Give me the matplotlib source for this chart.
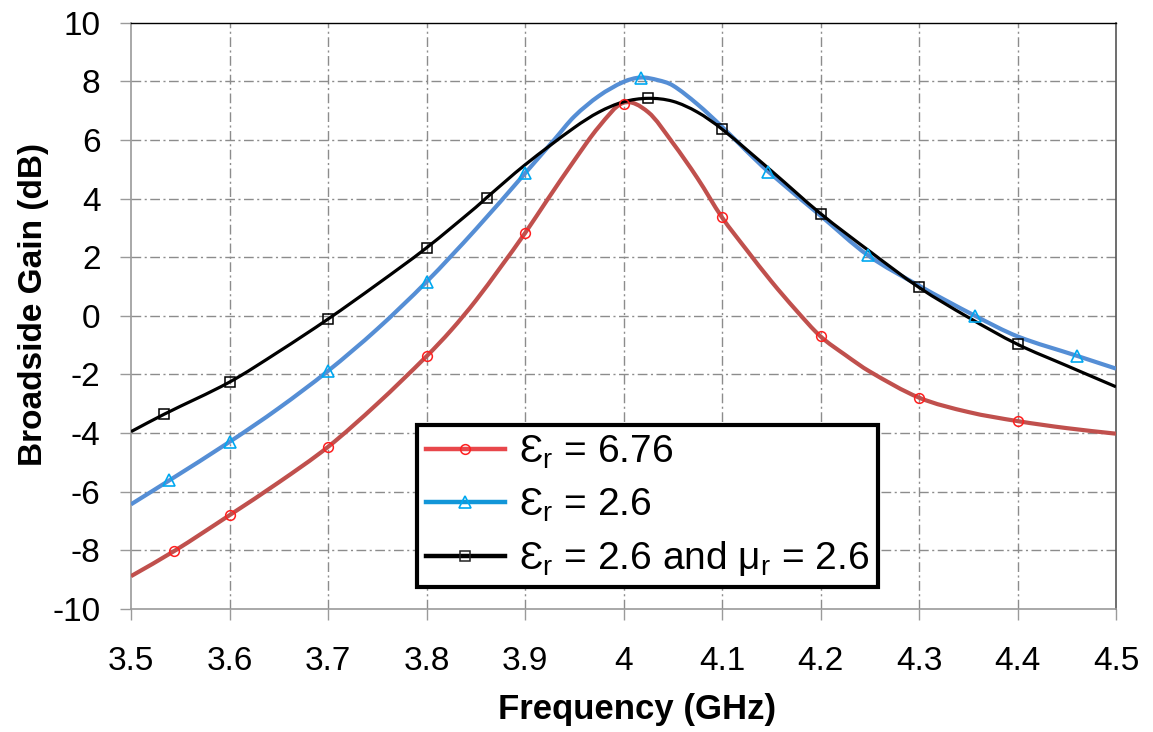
import matplotlib
matplotlib.use("Agg")
import matplotlib.pyplot as plt
from matplotlib.lines import Line2D
from matplotlib.path import Path
from matplotlib.patches import PathPatch

plt.rcParams['font.family'] = ['Liberation Sans', 'DejaVu Sans']
plt.rcParams['mathtext.fontset'] = 'custom'
plt.rcParams['mathtext.rm'] = 'Liberation Sans'
plt.rcParams['mathtext.it'] = 'Liberation Sans:italic'
plt.rcParams['axes.unicode_minus'] = False

# ---- curve data (GHz, dB) ----
freq_red = [3.5, 3.544, 3.6, 3.65, 3.7, 3.75, 3.8, 3.825, 3.85, 3.875, 3.9, 3.9225, 3.95, 3.975,
            4.0, 4.025, 4.05, 4.075, 4.1, 4.125, 4.15, 4.175, 4.2, 4.225, 4.25, 4.3, 4.35, 4.4, 4.45, 4.5]
gain_red = [-8.88, -8.02, -6.80, -5.68, -4.47, -3.00, -1.38, -0.49, 0.52, 1.65, 2.82, 3.95, 5.30, 6.45,
            7.27, 6.95, 5.90, 4.70, 3.36, 2.25, 1.18, 0.20, -0.70, -1.33, -1.90, -2.79, -3.28, -3.59, -3.83, -4.02]

freq_blue = [3.5, 3.539, 3.6, 3.65, 3.7, 3.75, 3.8, 3.85, 3.9, 3.93, 3.95, 3.975, 4.0, 4.0175,
             4.035, 4.05, 4.075, 4.1, 4.125, 4.147, 4.2, 4.248, 4.3, 4.357, 4.4, 4.46, 4.5]
gain_blue = [-6.43, -5.61, -4.30, -3.15, -1.88, -0.45, 1.16, 2.95, 4.86, 6.02, 6.80, 7.50, 7.98, 8.13,
             8.04, 7.86, 7.22, 6.45, 5.62, 4.92, 3.42, 2.07, 1.03, 0.0, -0.70, -1.36, -1.80]

freq_black = [3.5, 3.534, 3.6, 3.65, 3.7, 3.75, 3.8, 3.85, 3.861, 3.9, 3.95, 3.975, 4.0, 4.025,
              4.05, 4.075, 4.1, 4.15, 4.2, 4.25, 4.3, 4.35, 4.4, 4.45, 4.5]
gain_black = [-3.95, -3.35, -2.26, -1.22, -0.11, 1.08, 2.32, 3.70, 4.03, 5.15, 6.42, 6.95, 7.30, 7.42,
              7.32, 6.95, 6.37, 4.95, 3.49, 2.20, 0.97, -0.05, -0.97, -1.70, -2.42]

# ---- marker positions ----
mk_red_f = [3.544, 3.6, 3.7, 3.8, 3.9, 4.0, 4.1, 4.2, 4.3, 4.4]
mk_red_g = [-8.02, -6.80, -4.47, -1.38, 2.82, 7.22, 3.36, -0.70, -2.79, -3.59]
mk_blue_f = [3.539, 3.6, 3.7, 3.8, 3.9, 4.0175, 4.147, 4.248, 4.357, 4.46]
mk_blue_g = [-5.61, -4.30, -1.88, 1.16, 4.86, 8.13, 4.92, 2.07, 0.0, -1.36]
mk_black_f = [3.534, 3.6, 3.7, 3.8, 3.861, 4.025, 4.1, 4.2, 4.3, 4.4]
mk_black_g = [-3.35, -2.26, -0.11, 2.32, 4.03, 7.42, 6.37, 3.49, 0.97, -0.97]

labels = ['Ɛ$_\\mathregular{r}$ = 6.76',
          'Ɛ$_\\mathregular{r}$ = 2.6',
          'Ɛ$_\\mathregular{r}$ = 2.6 and μ$_\\mathregular{r}$ = 2.6']
xticks = [3.5, 3.6, 3.7, 3.8, 3.9, 4.0, 4.1, 4.2, 4.3, 4.4, 4.5]
xticklabels = ['3.5', '3.6', '3.7', '3.8', '3.9', '4', '4.1', '4.2', '4.3', '4.4', '4.5']
yticks = [-10, -8, -6, -4, -2, 0, 2, 4, 6, 8, 10]


def smooth_path(xs, ys):
    """Smoothed line (like a spreadsheet 'smoothed line') drawn as cubic Bezier segments."""
    n = len(xs)
    m = []
    for i in range(n):
        if i == 0:
            m.append((ys[1] - ys[0]) / (xs[1] - xs[0]))
        elif i == n - 1:
            m.append((ys[-1] - ys[-2]) / (xs[-1] - xs[-2]))
        else:
            m.append((ys[i + 1] - ys[i - 1]) / (xs[i + 1] - xs[i - 1]))
    verts = [(xs[0], ys[0])]
    codes = [Path.MOVETO]
    for i in range(n - 1):
        h = xs[i + 1] - xs[i]
        verts += [(xs[i] + h / 3, ys[i] + m[i] * h / 3),
                  (xs[i + 1] - h / 3, ys[i + 1] - m[i + 1] * h / 3),
                  (xs[i + 1], ys[i + 1])]
        codes += [Path.CURVE4] * 3
    return Path(verts, codes)


fig = plt.figure(figsize=(11.53, 7.32), dpi=100)
ax = fig.add_axes([131/1153, 1-609/732, (1116-131)/1153, (609-22.7)/732])

grid_ls = (0, (7, 2.5, 1.5, 2.5))
for xv in xticks[1:-1]:
    ax.axvline(xv, color='#8c8c8c', lw=1.0, ls=grid_ls, zorder=1)
for yv in yticks[1:-1]:
    ax.axhline(yv, color='#8c8c8c', lw=1.0, ls=grid_ls, zorder=1)

for fx, gy, col, lw, z in [(freq_red, gain_red, '#C0504D', 3.0, 3),
                           (freq_blue, gain_blue, '#558ED5', 3.0, 3),
                           (freq_black, gain_black, 'black', 2.3, 4)]:
    ax.add_patch(PathPatch(smooth_path(fx, gy), facecolor='none', edgecolor=col,
                           lw=lw, zorder=z, capstyle='butt'))

ax.plot(mk_red_f, mk_red_g, ls='none', marker='o', ms=7, mfc='none', mec='#FF2020', mew=1.1, zorder=5)
ax.plot(mk_blue_f, mk_blue_g, ls='none', marker='^', ms=9, mfc='none', mec='#00A8F0', mew=1.2, zorder=5)
ax.plot(mk_black_f, mk_black_g, ls='none', marker='s', ms=7, mfc='none', mec='black', mew=1.1, zorder=6)

ax.set_xlim(3.5, 4.5)
ax.set_ylim(-10, 10)
ax.set_xticks(xticks)
ax.set_xticklabels(xticklabels)
ax.set_yticks(yticks)
ax.tick_params(axis='both', direction='out', length=8, width=1.0, color='#9a9a9a', labelsize=24)
ax.tick_params(axis='x', pad=19)
ax.tick_params(axis='y', pad=14)
for s in ['left', 'bottom']:
    ax.spines[s].set_color('#9a9a9a')
    ax.spines[s].set_linewidth(1.2)
ax.spines['top'].set_color('black')
ax.spines['top'].set_linewidth(1.0)
ax.spines['right'].set_color('#555555')
ax.spines['right'].set_linewidth(1.2)

ax.set_xlabel('Frequency (GHz)', fontsize=25, fontweight='bold')
ax.xaxis.set_label_coords((637 - 131) / 985, -(710 - 609) / 586.3)
ax.xaxis.label.set_va('center')
ax.set_ylabel('Broadside Gain (dB)', fontsize=24, fontweight='bold')
ax.yaxis.set_label_coords((49 - 131) / 985, (609 - 304) / 586.3)

handles = [
    Line2D([], [], color='#E8474B', lw=3.2, marker='o', ms=7, mfc='none', mec='#FF2020', mew=1.1),
    Line2D([], [], color='#1296D8', lw=3.2, marker='^', ms=9, mfc='none', mec='#00A8F0', mew=1.2),
    Line2D([], [], color='black', lw=3.2, marker='s', ms=7, mfc='none', mec='#222222', mew=1.1),
]
leg = ax.legend(handles, labels, loc='lower left',
                bbox_to_anchor=((417-131)/985, (609-587)/586.3),
                fontsize=28, frameon=True, fancybox=False, framealpha=1, handlelength=2.05,
                handletextpad=0.35, labelspacing=0.4, borderpad=0.22, borderaxespad=0)
leg.get_frame().set_edgecolor('black')
leg.get_frame().set_linewidth(3.0)
leg.set_zorder(10)

fig.savefig('out.png', dpi=100)
